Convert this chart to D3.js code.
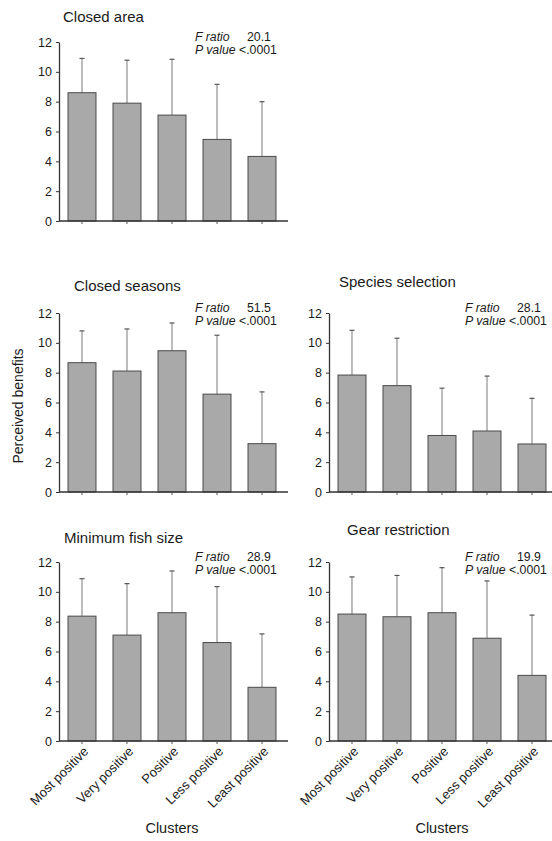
<!DOCTYPE html>
<html>
<head>
<meta charset="utf-8">
<script src="https://cdn.jsdelivr.net/npm/d3@7/dist/d3.min.js"></script>
<style>
  body { margin: 0; background: #fff; }
  svg { display: block; }
  text { font-family: "Liberation Sans", Arial, sans-serif; fill: #1a1a1a; }
</style>
</head>
<body>
<svg width="552" height="841"></svg>
<script>
(function(d3) {
    'use strict';

    // data
    const clusters = ['Most positive', 'Very positive', 'Positive', 'Less positive', 'Least positive'];
    const yTicks = [0, 2, 4, 6, 8, 10, 12];
    const pValue = '<.0001';

    const closedAreaMean = [8.6, 7.9, 7.1, 5.47, 4.33];
    const closedAreaSD = [2.3, 2.88, 3.74, 3.69, 3.67];

    const closedSeasonsMean = [8.67, 8.11, 9.47, 6.56, 3.24];
    const closedSeasonsSD = [2.13, 2.82, 1.86, 3.95, 3.47];

    const speciesMean = [7.84, 7.13, 3.79, 4.09, 3.22];
    const speciesSD = [3.0, 3.18, 3.17, 3.68, 3.06];

    const minSizeMean = [8.37, 7.1, 8.6, 6.6, 3.6];
    const minSizeSD = [2.51, 3.45, 2.8, 3.75, 3.58];

    const gearMean = [8.51, 8.33, 8.6, 6.89, 4.4];
    const gearSD = [2.49, 2.77, 3.02, 3.84, 4.04];

    const titles = ['Closed area', 'Closed seasons', 'Species selection', 'Minimum fish size', 'Gear restriction'];
    const fRatios = ['20.1', '51.5', '28.1', '28.9', '19.9'];

    const svg = d3.select('svg');

    // panel placement: axis origin x, y of top tick, title offset
    const panels = [
        { mean: closedAreaMean, sd: closedAreaSD, x0: 59, top: 42, titleDx: 4, titleY: 22, labels: false },
        { mean: closedSeasonsMean, sd: closedSeasonsSD, x0: 59, top: 313, titleDx: 15, titleY: 291, labels: false },
        { mean: speciesMean, sd: speciesSD, x0: 329, top: 313, titleDx: 10, titleY: 287, labels: false },
        { mean: minSizeMean, sd: minSizeSD, x0: 59, top: 562, titleDx: 5, titleY: 543, labels: true },
        { mean: gearMean, sd: gearSD, x0: 329, top: 562, titleDx: 18, titleY: 535, labels: true }
    ];
    panels.forEach((p, i) => { p.title = titles[i]; p.f = fRatios[i]; });

    const plotH = 179;

    const drawPanel = (g, p) => {
        const x = d3.scaleBand()
            .domain(clusters)
            .range([0, 226])
            .paddingInner(0.378)
            .paddingOuter(0.2);
        const y = d3.scaleLinear()
            .domain([0, 12])
            .range([plotH, 0]);

        const rows = clusters.map((c, i) => ({ c, mean: p.mean[i], sd: p.sd[i] }));

        // error bars (upper only)
        const eb = g.selectAll('.err').data(rows).enter().append('g').attr('class', 'err');
        eb.append('line')
            .attr('x1', d => x(d.c) + x.bandwidth() / 2)
            .attr('x2', d => x(d.c) + x.bandwidth() / 2)
            .attr('y1', d => y(d.mean))
            .attr('y2', d => y(d.mean + d.sd))
            .attr('stroke', '#7a7a7a')
            .attr('stroke-width', 1);
        eb.append('line')
            .attr('x1', d => x(d.c) + x.bandwidth() / 2 - 2.5)
            .attr('x2', d => x(d.c) + x.bandwidth() / 2 + 2.5)
            .attr('y1', d => y(d.mean + d.sd))
            .attr('y2', d => y(d.mean + d.sd))
            .attr('stroke', '#555')
            .attr('stroke-width', 1.2);

        g.selectAll('.bar').data(rows)
            .enter().append('rect')
            .attr('class', 'bar')
            .attr('x', d => x(d.c))
            .attr('y', d => y(d.mean))
            .attr('width', x.bandwidth())
            .attr('height', d => plotH - y(d.mean))
            .attr('fill', '#a9a9a9')
            .attr('stroke', '#4a4a4a')
            .attr('stroke-width', 1);

        // y axis
        const yAxisG = g.append('g')
            .call(d3.axisLeft(y).tickValues(yTicks).tickSize(3).tickPadding(4).tickSizeOuter(0));
        yAxisG.select('.domain').attr('stroke', '#333').attr('stroke-width', 1.3);
        yAxisG.selectAll('.tick line').attr('stroke', '#333');
        yAxisG.selectAll('text')
            .style('font-size', '12.5px')
            .style('font-family', '"Liberation Sans", Arial, sans-serif')
            .attr('fill', '#1a1a1a');

        // x axis
        const xAxisG = g.append('g')
            .attr('transform', `translate(0,${plotH})`)
            .call(d3.axisBottom(x).tickSize(3).tickSizeOuter(0).tickFormat(p.labels ? (d => d) : ''));
        xAxisG.select('.domain')
            .attr('d', 'M0,0H229')
            .attr('stroke', '#333').attr('stroke-width', 1.3);
        xAxisG.selectAll('.tick line').attr('stroke', '#555');
        xAxisG.selectAll('text')
            .style('font-size', '13px')
            .style('font-family', '"Liberation Sans", Arial, sans-serif')
            .attr('fill', '#1a1a1a')
            .attr('text-anchor', 'end')
            .attr('dy', '0.35em')
            .attr('transform', 'translate(4,8) rotate(-45)')
            .attr('y', 0)
            .attr('x', 0);

        // title
        g.append('text')
            .attr('x', p.titleDx)
            .attr('y', p.titleY - p.top)
            .style('font-size', '15px')
            .text(p.title);

        // statistics
        const st = g.append('g').attr('transform', 'translate(136,0)');
        st.append('text')
            .attr('y', -1)
            .style('font-size', '12.3px')
            .style('font-style', 'italic')
            .text('F ratio');
        st.append('text')
            .attr('x', 52)
            .attr('y', -1)
            .style('font-size', '12.3px')
            .text(p.f);
        const pv = st.append('text')
            .attr('y', 12)
            .style('font-size', '12.3px');
        pv.append('tspan').style('font-style', 'italic').text('P value ');
        pv.append('tspan').text(pValue);
    };

    panels.forEach(p => {
        const g = svg.append('g').attr('transform', `translate(${p.x0},${p.top})`);
        drawPanel(g, p);
    });

    // shared axis titles
    svg.append('text')
        .attr('transform', 'translate(23,406) rotate(-90)')
        .attr('text-anchor', 'middle')
        .style('font-size', '14px')
        .text('Perceived benefits');

    [59, 329].forEach(x0 => {
        svg.append('text')
            .attr('x', x0 + 113)
            .attr('y', 833)
            .attr('text-anchor', 'middle')
            .style('font-size', '14.5px')
            .text('Clusters');
    });
}(d3));
</script>
</body>
</html>
